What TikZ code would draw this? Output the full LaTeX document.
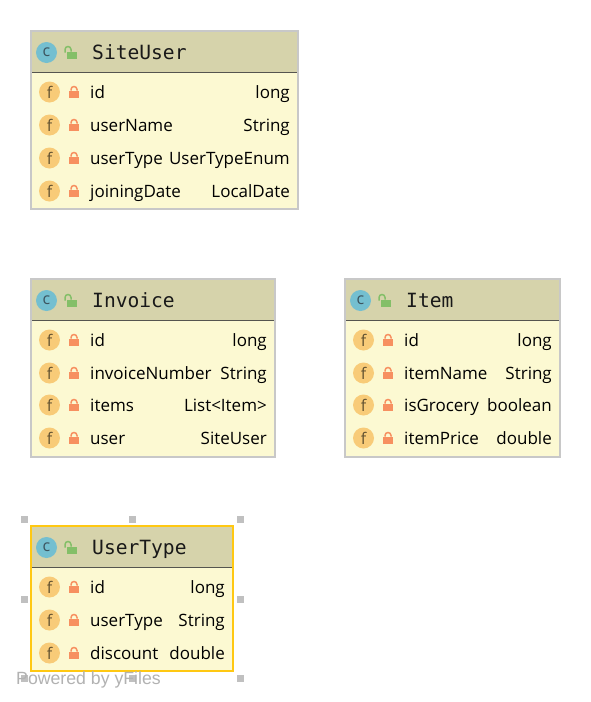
\documentclass[tikz,border=0pt]{standalone}
\usepackage{fontspec}
\setmainfont{Open Sans}
\newfontfamily\titlefont{DejaVu Sans Mono}
\newfontfamily\wmfont{Liberation Sans}
\definecolor{bodyfill}{HTML}{FCF9D2}
\definecolor{headfill}{HTML}{D6D3AB}
\definecolor{boxline}{HTML}{C8C8C8}
\definecolor{selline}{HTML}{FFC812}
\definecolor{sepline}{HTML}{55554F}
\definecolor{cfill}{HTML}{74BFD0}
\definecolor{cink}{HTML}{3C5560}
\definecolor{ffill}{HTML}{F8CB78}
\definecolor{fink}{HTML}{5F5030}
\definecolor{lockred}{HTML}{F79060}
\definecolor{lockgreen}{HTML}{84BF68}
\definecolor{handle}{HTML}{C0C0C0}
\tikzset{
  x=1pt,y=-1pt,
  rowtext/.style={font=\fontsize{17}{20}\selectfont,text=black,inner sep=0pt},
  titletext/.style={font=\titlefont\fontsize{19.6}{22}\selectfont,text=black!90,inner sep=0pt,anchor=base west},
  badge/.style={circle,minimum size=21pt,inner sep=0pt,font=\fontsize{16}{16}\selectfont},
  handlebox/.style={fill=handle,draw=none,minimum size=7pt,inner sep=0pt,rectangle},
}
% closed lock at (x,y)
\newcommand{\closedlock}[2]{%
  \fill[lockred] (#1-5,#2-1.5) rectangle (#1+5,#2+5.5);
  \draw[lockred,line width=1.5pt] (#1-3,#2-1.5) -- (#1-3,#2-2.5) arc[start angle=180,end angle=360,radius=3] -- (#1+3,#2-1.5);
}
% open lock at (x,y)
\newcommand{\openlock}[2]{%
  \fill[lockgreen] (#1-3,#2-1) rectangle (#1+6.5,#2+6);
  \draw[lockgreen,line width=1.5pt] (#1+1,#2-1) -- (#1+1,#2-3) arc[start angle=360,end angle=180,radius=3] -- (#1-5,#2);
}
% id, x0, y0, x1, y1, sep y, line colour, title, rows
\newcommand{\classbox}[9]{%
  \fill[bodyfill] (#2,#6) rectangle (#4,#5);
  \fill[headfill] (#2,#3) rectangle (#4,#6);
  \draw[sepline,line width=1pt] (#2,#6) -- (#4,#6);
  \draw[#7,line width=1.1pt] (#2,#3) rectangle (#4,#5);
  \pgfmathsetmacro{\ty}{(#3+#6)/2+1}
  \node[badge,fill=cfill,text=cink] (#1c) at (#2+15.5,\ty) {\raisebox{1pt}{c}};
  \openlock{#2+39}{\ty}
  \node[titletext] (#1t) at (#2+61,\ty+6.5) {#8};
  \foreach \ry/\rn/\rt [count=\ri] in {#9}{
    \node[badge,fill=ffill,text=fink] (#1f\ri) at (#2+18.5,\ry) {f};
    \closedlock{#2+43}{\ry}
    \node[rowtext,anchor=base west] (#1n\ri) at (#2+59,\ry+6.5) {\rn};
    \node[rowtext,anchor=base east] (#1v\ri) at (#4-8,\ry+6.5) {\rt};
  }
}
\begin{document}
\begin{tikzpicture}
\useasboundingbox (0,0) rectangle (591,702);
\fill[white] (0,0) rectangle (591,702);
\classbox{su}{31}{31}{298}{209}{72}{boxline}{SiteUser}{92/id/long,125/userName/String,158/userType/UserTypeEnum,191/joiningDate/LocalDate}
\classbox{in}{31}{279}{275}{457}{320}{boxline}{Invoice}{340/id/long,373/invoiceNumber/String,405/items/{List<Item>},438/user/SiteUser}
\classbox{it}{345}{279}{560}{457}{320}{boxline}{Item}{340/id/long,373/itemName/String,405/isGrocery/boolean,438/itemPrice/double}
\classbox{ut}{31}{526}{233}{671}{567}{selline}{UserType}{587/id/long,620/userType/String,653/discount/double}
\node[handlebox] (h1) at (24.5,519.5) {};
\node[handlebox] (h2) at (132.5,519.5) {};
\node[handlebox] (h3) at (240.5,519.5) {};
\node[handlebox] (h4) at (24.5,599) {};
\node[handlebox] (h5) at (240.5,599) {};
\node[handlebox] (h6) at (24.5,678.5) {};
\node[handlebox] (h7) at (132.5,678.5) {};
\node[handlebox] (h8) at (240.5,678.5) {};
\node[inner sep=0pt,anchor=base west,text=black!30,font=\wmfont\fontsize{17.7}{20}\selectfont] (wm) at (16,684) {Powered by yFiles};
\end{tikzpicture}
\end{document}
